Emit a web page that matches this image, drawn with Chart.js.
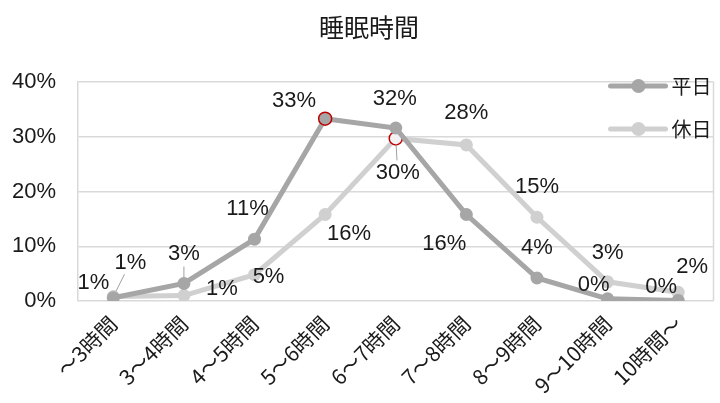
<!DOCTYPE html>
<html lang="ja">
<head>
  <meta charset="UTF-8">
  <title>睡眠時間</title>
  <script src="https://cdn.jsdelivr.net/npm/chart.js"></script>
  <style>
    html, body { margin: 0; padding: 0; background: #fff; }
    #wrap { width: 720px; height: 403px; }
  </style>
</head>
<body>
  <div id="wrap"><canvas id="grafico"></canvas></div>
  <script>
    const titulo = '睡眠時間';
    const categorias = ['〜3時間', '3〜4時間', '4〜5時間', '5〜6時間', '6〜7時間', '7〜8時間', '8〜9時間', '9〜10時間', '10時間〜'];
    const heijitsu = [0.6, 3.2, 11.3, 33.3, 31.6, 15.8, 4.2, 0.4, 0.1];
    const kyujitsu = [0.8, 1.0, 4.8, 15.8, 29.7, 28.5, 15.3, 3.5, 1.6];
    const etiquetasHei = ['1%', '3%', '11%', '33%', '32%', '16%', '4%', '0%', '0%'];
    const etiquetasKyu = ['1%', '1%', '5%', '16%', '30%', '28%', '15%', '3%', '2%'];
    const yTicks = [0, 10, 20, 30, 40];

    // desplazamientos de las etiquetas (dx, dy) respecto al punto
    const offHei = [[-20, -15], [0, -30], [-7, -30], [-31, -18], [-1, -29], [-22, 29], [0, -30], [-14, -14], [-17, -14]];
    const offKyu = [[17, -34], [38, -7], [14, 2], [24, 19], [2, 35], [0, -32], [0, -30], [0, -29], [14, -25]];
    const lineas = { hei: [1], kyu: [0, 4] };

    const colHei = '#a6a6a6', colKyu = '#d0d0d0';
    const fuente = "'Liberation Sans', Arial, 'Noto Sans CJK JP', sans-serif";

    const etiquetasPlugin = {
      id: 'etiquetas',
      afterDatasetsDraw(chart) {
        const ctx = chart.ctx;
        const conf = [[0, etiquetasHei, offHei, lineas.hei], [1, etiquetasKyu, offKyu, lineas.kyu]];
        ctx.save();
        ctx.font = '22px ' + fuente;
        ctx.textAlign = 'center';
        ctx.textBaseline = 'middle';
        conf.forEach(([i, textos, offs, conLinea]) => {
          const meta = chart.getDatasetMeta(i);
          meta.data.forEach((p, j) => {
            const [dx, dy] = offs[j];
            const lx = p.x + dx, ly = p.y + dy;
            if (conLinea.includes(j)) {
              ctx.strokeStyle = '#a0a0a0';
              ctx.lineWidth = 1;
              ctx.beginPath();
              const len = Math.hypot(dx, dy);
              const ux = dx / len, uy = dy / len;
              ctx.moveTo(p.x + ux * 6, p.y + uy * 6);
              ctx.lineTo(lx - ux * 13, ly - uy * 13);
              ctx.stroke();
            }
            ctx.fillStyle = '#1a1a1a';
            ctx.fillText(textos[j], lx, ly);
          });
        });
        ctx.restore();
      }
    };

    const tituloLeyendaPlugin = {
      id: 'tituloLeyenda',
      afterDraw(chart) {
        const ctx = chart.ctx;
        const area = chart.chartArea;
        ctx.save();
        // borde derecho del área
        ctx.strokeStyle = '#d9d9d9';
        ctx.lineWidth = 1.5;
        ctx.beginPath();
        ctx.moveTo(area.right, area.top);
        ctx.lineTo(area.right, area.bottom);
        ctx.stroke();

        ctx.fillStyle = '#1a1a1a';
        ctx.font = "25px 'Noto Sans CJK JP', sans-serif";
        ctx.textAlign = 'center';
        ctx.textBaseline = 'middle';
        ctx.fillText(titulo, 369, 27);
        chart.data.datasets.forEach((ds, i) => {
          const y = area.top + 4 + i * 43;
          const x0 = area.right - 103;
          ctx.strokeStyle = ds.borderColor;
          ctx.lineWidth = 5;
          ctx.lineCap = 'round';
          ctx.beginPath();
          ctx.moveTo(x0, y);
          ctx.lineTo(x0 + 55, y);
          ctx.stroke();
          ctx.fillStyle = ds.backgroundColor;
          ctx.beginPath();
          ctx.arc(x0 + 28, y, 7, 0, Math.PI * 2);
          ctx.fill();
          ctx.fillStyle = '#1a1a1a';
          ctx.font = "20px 'Noto Sans CJK JP', sans-serif";
          ctx.textAlign = 'left';
          ctx.fillText(ds.label, x0 + 61, y);
        });
        ctx.restore();
      }
    };

    new Chart(document.getElementById('grafico'), {
      type: 'line',
      data: {
        labels: categorias,
        datasets: [
          {
            label: '平日', data: heijitsu,
            borderColor: colHei, backgroundColor: colHei, borderWidth: 5,
            pointRadius: 6.5, pointHoverRadius: 6.5,
            pointBorderColor: heijitsu.map((v, i) => i === 3 ? '#c00000' : colHei),
            pointBorderWidth: heijitsu.map((v, i) => i === 3 ? 1.5 : 0),
            tension: 0
          },
          {
            label: '休日', data: kyujitsu,
            borderColor: colKyu, backgroundColor: colKyu, borderWidth: 5,
            pointRadius: 6.5, pointHoverRadius: 6.5,
            pointBackgroundColor: kyujitsu.map((v, i) => i === 4 ? '#f2f2f2' : colKyu),
            pointBorderColor: kyujitsu.map((v, i) => i === 4 ? '#c00000' : colKyu),
            pointBorderWidth: kyujitsu.map((v, i) => i === 4 ? 1.5 : 0),
            tension: 0
          }
        ]
      },
      options: {
        responsive: true,
        maintainAspectRatio: false,
        animation: false,
        layout: { padding: { top: 82, right: 3, left: 0, bottom: 0 } },
        plugins: { legend: { display: false }, tooltip: { enabled: false } },
        scales: {
          x: {
            offset: true,
            grid: { display: false },
            border: { display: false },
            ticks: {
              color: '#1a1a1a', maxRotation: 45, minRotation: 45, autoSkip: false, padding: 2,
              font: { family: "'Noto Sans CJK JP', sans-serif", size: 21 }
            },
            afterFit(scale) { scale.height = 102; }
          },
          y: {
            min: 0, max: 40,
            afterBuildTicks(scale) { scale.ticks = yTicks.map(v => ({ value: v })); },
            grid: { color: '#d9d9d9', lineWidth: 1.5, drawTicks: false },
            border: { display: true, color: '#d9d9d9', width: 1.5 },
            ticks: {
              color: '#1a1a1a', padding: 22,
              font: { family: fuente, size: 22 },
              callback: v => v + '%'
            },
            afterFit(scale) { scale.width = 78; }
          }
        }
      },
      plugins: [etiquetasPlugin, tituloLeyendaPlugin]
    });
  </script>
</body>
</html>
